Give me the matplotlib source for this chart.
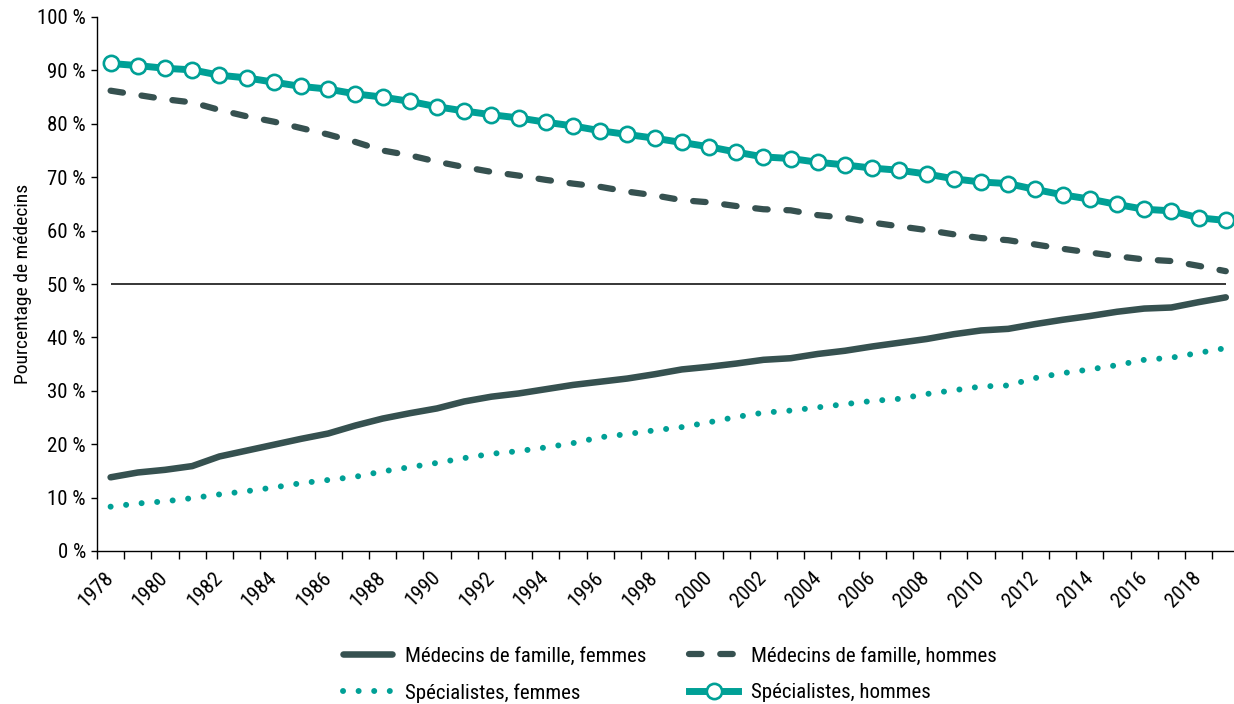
import matplotlib
matplotlib.use("Agg")
import matplotlib.pyplot as plt
from matplotlib import font_manager
from matplotlib.ticker import FixedLocator, FuncFormatter

# ---------------- data ----------------
years = list(range(1978, 2020))

mf_femmes = [13.8, 14.7, 15.2, 15.9, 17.7, 18.8, 19.9, 21.0, 22.0, 23.5,
             24.8, 25.8, 26.7, 28.0, 28.9, 29.5, 30.3, 31.1, 31.7, 32.3,
             33.1, 34.0, 34.5, 35.1, 35.8, 36.1, 36.9, 37.5, 38.3, 39.0,
             39.7, 40.6, 41.3, 41.6, 42.5, 43.3, 44.0, 44.8, 45.4, 45.6,
             46.6, 47.5]

mf_hommes = [86.2, 85.4, 84.6, 84.0, 82.6, 81.4, 80.4, 79.2, 78.0, 76.6,
             75.0, 74.1, 72.9, 71.9, 71.0, 70.3, 69.5, 68.8, 68.2, 67.3,
             66.6, 65.7, 65.3, 64.6, 64.0, 63.8, 62.9, 62.4, 61.5, 60.8,
             60.1, 59.3, 58.6, 58.2, 57.4, 56.6, 55.9, 55.2, 54.6, 54.3,
             53.4, 52.4]

sp_femmes = [8.3, 8.9, 9.3, 9.9, 10.6, 11.2, 11.9, 12.7, 13.3, 13.9,
             14.9, 15.7, 16.5, 17.4, 18.2, 18.7, 19.4, 20.2, 21.3, 21.9,
             22.6, 23.2, 24.1, 25.1, 25.9, 26.3, 26.9, 27.5, 28.1, 28.5,
             29.4, 30.1, 30.8, 31.0, 32.4, 33.3, 34.0, 34.8, 35.8, 36.2,
             37.1, 38.0]

sp_hommes = [91.3, 90.9, 90.4, 90.1, 89.1, 88.6, 87.8, 87.0, 86.5, 85.6,
             85.0, 84.2, 83.2, 82.4, 81.7, 81.1, 80.3, 79.6, 78.7, 78.0,
             77.3, 76.5, 75.7, 74.7, 73.8, 73.5, 72.8, 72.3, 71.7, 71.3,
             70.6, 69.7, 69.1, 68.8, 67.7, 66.7, 65.9, 64.9, 64.0, 63.7,
             62.4, 61.9]

reference_level = 50

labels = ["Médecins de famille, femmes", "Médecins de famille, hommes",
          "Spécialistes, femmes", "Spécialistes, hommes"]
y_label = "Pourcentage de médecins"
y_ticks = [0, 10, 20, 30, 40, 50, 60, 70, 80, 90, 100]

# ---------------- style ----------------
entries = font_manager.fontManager.ttflist
names = {f.name for f in entries}
narrow = None
for pref in ["Liberation Sans Narrow", "Arial Narrow", "Roboto Condensed",
             "Open Sans Condensed", "DejaVu Sans Condensed"]:
    if pref in names:
        narrow = pref
        break
if narrow is None:
    for f in entries:
        if ("Narrow" in f.name or "Condensed" in f.name) and "Mono" not in f.name \
                and "Serif" not in f.name:
            narrow = f.name
            break

if narrow is not None:
    plt.rcParams["font.family"] = [narrow, "DejaVu Sans"]
    fs_tick, fs_leg, fs_lab = 15, 15, 14
else:
    plt.rcParams["font.family"] = ["Liberation Sans", "DejaVu Sans"]
    fs_tick, fs_leg, fs_lab = 13.2, 13.5, 12

DARK = "#365150"
TEAL = "#00A096"

W, H = 1234, 704
fig = plt.figure(figsize=(W / 100, H / 100), dpi=100)
n = len(years)
px_per_cat = 27.2
left_px, bottom_px, top_px = 97, 551, 17
ax_w_px = n * px_per_cat
ax = fig.add_axes([left_px / W, (H - bottom_px) / H,
                   ax_w_px / W, (bottom_px - top_px) / H])

x = list(range(n))

ax.hlines(reference_level, 0, n - 1, color="black", lw=1.1, zorder=2)

l1, = ax.plot(x, mf_femmes, color=DARK, lw=4.7, solid_capstyle="round",
              solid_joinstyle="round", label=labels[0], zorder=3)
l2, = ax.plot(x, mf_hommes, color=DARK, lw=4.5, linestyle=(0, (2.0, 3.0)),
              dash_capstyle="round", label=labels[1], zorder=3)
l3, = ax.plot(x, sp_femmes, color=TEAL, lw=4.3, linestyle=(0, (0.01, 2.6)),
              dash_capstyle="round", label=labels[2], zorder=3)
l4, = ax.plot(x, sp_hommes, color=TEAL, lw=5.0, marker="o", markersize=11,
              markerfacecolor="white", markeredgecolor=TEAL,
              markeredgewidth=1.9, label=labels[3], zorder=4)

ax.set_xlim(-0.5, n - 0.5)
ax.set_ylim(0, 100)

ax.spines["top"].set_visible(False)
ax.spines["right"].set_visible(False)
for s in ("left", "bottom"):
    ax.spines[s].set_linewidth(1.0)
    ax.spines[s].set_color("black")

ax.yaxis.set_major_locator(FixedLocator(y_ticks))
ax.yaxis.set_major_formatter(FuncFormatter(lambda v, p: f"{int(v)} %"))
ax.tick_params(axis="y", direction="out", length=4, width=1.0, pad=4,
               labelsize=fs_tick, colors="black")

ax.set_xticks([i for i in x if years[i] % 2 == 0])
ax.set_xticklabels([str(years[i]) for i in x if years[i] % 2 == 0])
ax.set_xticks([i - 0.5 for i in range(n + 1)], minor=True)
ax.tick_params(axis="x", which="major", length=0, pad=17, labelsize=fs_tick)
ax.tick_params(axis="x", which="minor", direction="out", length=6, width=1.0)
for t in ax.get_xticklabels():
    t.set_rotation(45)
    t.set_ha("right")
    t.set_va("center")
    t.set_rotation_mode("anchor")

ax.set_ylabel(y_label, fontsize=fs_lab)
ax.yaxis.set_label_coords(-(left_px - 32) / ax_w_px, 0.5)

fig.legend([l1, l3, l2, l4], [labels[0], labels[2], labels[1], labels[3]],
           ncol=2, loc="center", bbox_to_anchor=(670 / W, 0.0419),
           frameon=False, fontsize=fs_leg, handlelength=2.35,
           handletextpad=0.62, columnspacing=2.07, labelspacing=0.85,
           numpoints=1)

fig.savefig("out.png", dpi=100)
